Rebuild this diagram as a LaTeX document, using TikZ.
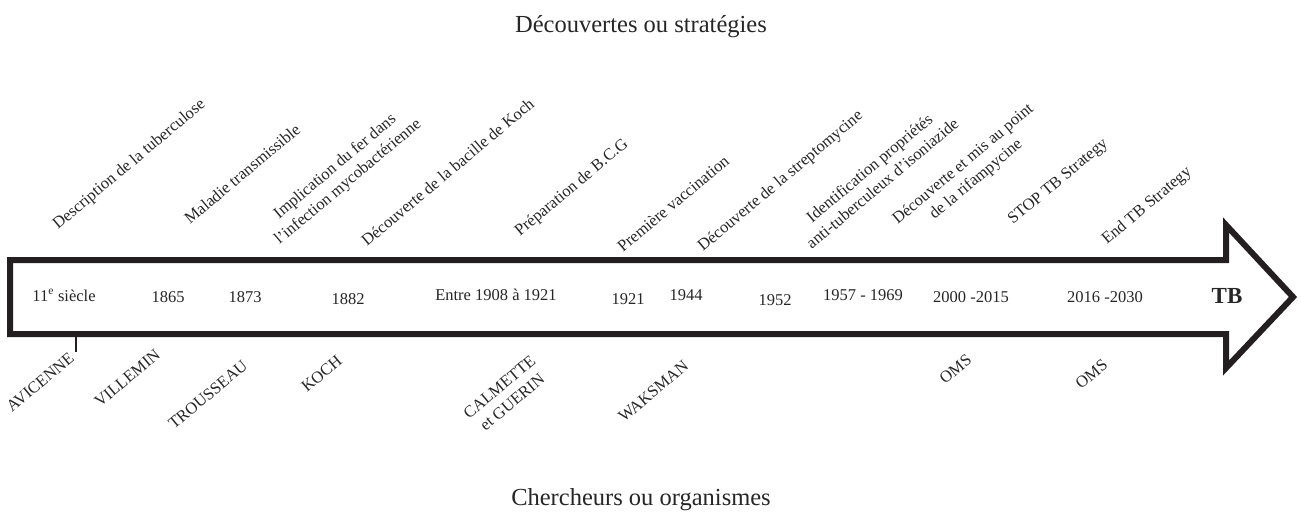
\documentclass[tikz,border=0pt]{standalone}
\usepackage{fontspec}
\setmainfont{Liberation Serif}
\usepackage{tikz}

\definecolor{inkdark}{RGB}{35,31,32}
\definecolor{textgrey}{RGB}{38,38,38}

\tikzset{
	event/.style={rotate=40, anchor=base west, inner sep=0pt, text=textgrey, font=\fontsize{16.5}{20}\selectfont},
	eventtwo/.style={event, anchor=south west, align=center},
	year/.style={anchor=base, inner sep=0pt, text=textgrey, font=\fontsize{16.5}{20}\selectfont},
	heading/.style={anchor=base, inner sep=0pt, text=textgrey, font=\fontsize{24.5}{28}\selectfont}
}

\begin{document}
\begin{tikzpicture}[x=1pt, y=-1pt]
	\useasboundingbox (0,0) rectangle (1301,516);

	\node[heading] (top) at (641,33) {Découvertes ou stratégies};
	\node[heading] (bottom) at (641,505) {Chercheurs ou organismes};

	%the big arrow
	\draw[inkdark, line width=6pt, miter limit=10] (10,260) -- (1226,260) -- (1226,225) -- (1293,297)
		-- (1226,368) -- (1226,334) -- (10,334) -- cycle;

	\foreach \x/\y/\t [count=\i] in {64/301/11\textsuperscript{e} siècle, 168/302/1865, 245/302/1873,
		348/304/1882, 496/300/Entre 1908 à 1921, 628/304/1921, 686/300/1944, 775/305/1952,
		863/300/1957 - 1969, 971/302/2000 -2015, 1105/302/2016 -2030}{
		\node[year] (y\i) at (\x,\y) {\t};
	}
	\node[year, font=\fontsize{23}{26}\selectfont\bfseries] (tb) at (1227,303) {TB};

	%discoveries
	\node[event] (tuberculose) at (58,230) {Description de la tuberculose};
	\node[event] (transmissible) at (190,225) {Maladie transmissible};
	\node[eventtwo] (fer) at (282,248) {Implication du fer dans\\l’infection mycobactérienne};
	\node[event] (bacille) at (367,247) {Découverte de la bacille de Koch};
	\node[event] (bcg) at (520,237) {Préparation de B.C.G};
	\node[event] (vaccination) at (623,253) {Première vaccination};
	\node[event] (streptomycine) at (703,252) {Découverte de la streptomycine};
	\node[eventtwo] (isoniazide) at (812,250) {Identification propriétés\\anti-tuberculeux d’isoniazide};
	\node[eventtwo] (rifampycine) at (913,243) {Découverte et mis au point\\de la rifampycine};
	\node[event] (stoptb) at (1013,225) {STOP TB Strategy};
	\node[event] (endtb) at (1107,245) {End TB Strategy};

	%researchers
	\node[event] (avicenne) at (12,413) {AVICENNE};
	\node[event] (villemin) at (100,408) {VILLEMIN};
	\node[event] (trousseau) at (174,430) {TROUSSEAU};
	\node[event] (koch) at (307,393) {KOCH};
	\node[eventtwo] (calmette) at (482,435) {CALMETTE\\et GUERIN};
	\node[event] (waksman) at (624,423) {WAKSMAN};
	\node[event] (oms1) at (945,385) {OMS};
	\node[event] (oms2) at (1081,390) {OMS};

	\coordinate (ticktop) at (76,334);
	\coordinate (tickend) at (76,352);
	\draw[inkdark, line width=1.4pt] (ticktop) -- (tickend);
\end{tikzpicture}
\end{document}
